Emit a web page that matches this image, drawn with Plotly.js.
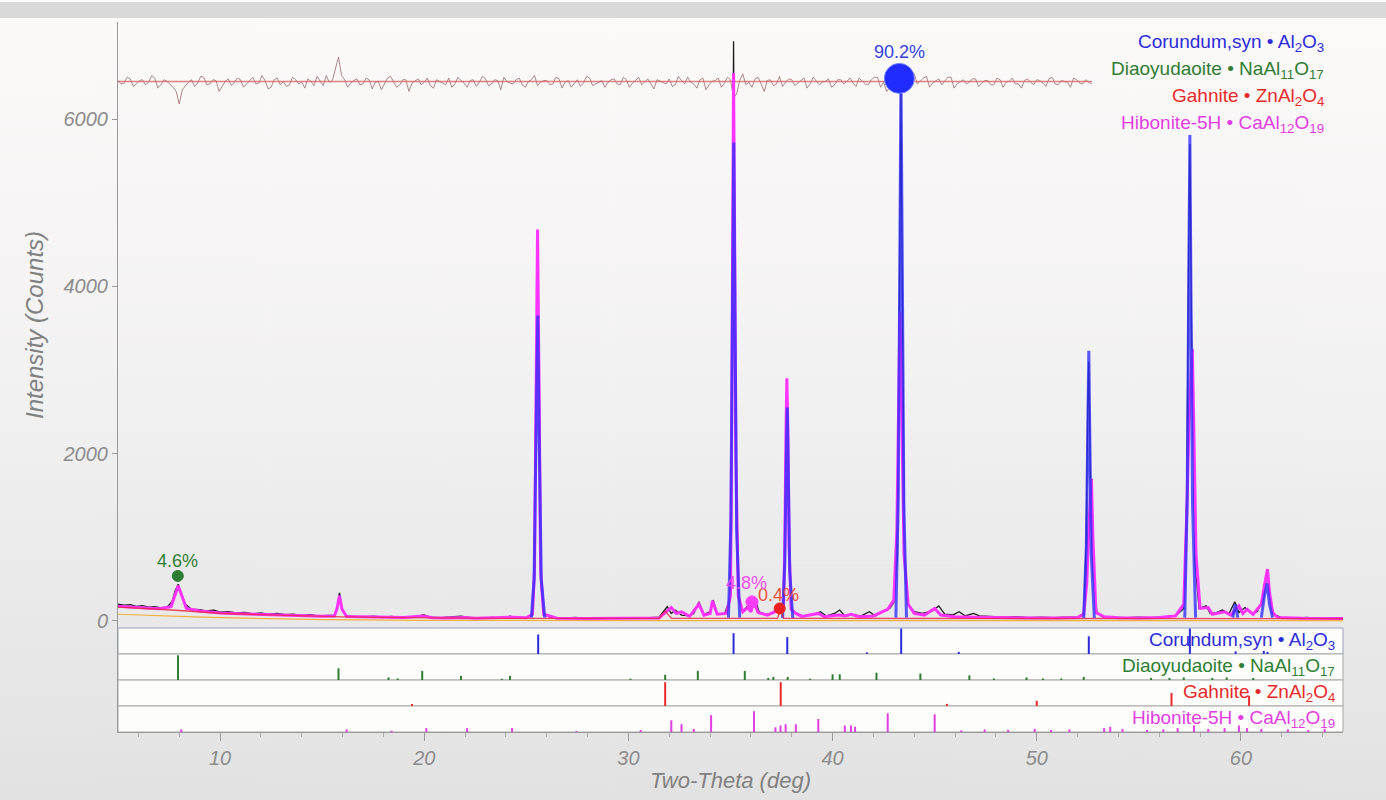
<!DOCTYPE html>
<html><head><meta charset="utf-8">
<script src="https://cdn.plot.ly/plotly-3.0.1.min.js"></script>
<style>html,body{margin:0;padding:0;background:#ececec;} #chart{width:1386px;height:800px;}</style>
</head><body><div id="chart"></div>
<script>
// ---------- DATA (2-theta in deg, intensity in counts) ----------
const obsPoints = [[5.0,200],[5.3,190],[5.6,195],[5.9,175],[6.2,182],[6.5,165],[6.8,172],[7.1,155],[7.4,165],[7.65,230],[7.8,360],[7.95,440],[8.1,330],[8.3,200],[8.6,140],[9.0,135],[9.3,120],[9.7,128],[10.0,105],[10.4,112],[10.8,95],[11.2,102],[11.6,85],[12.0,96],[12.4,80],[12.8,90],[13.2,75],[13.6,82],[14.0,65],[14.4,76],[14.8,60],[15.2,66],[15.6,70],[15.72,160],[15.85,335],[15.98,150],[16.15,60],[16.5,55],[17.0,48],[17.5,56],[18.0,45],[18.4,55],[18.8,44],[19.2,52],[19.6,45],[19.95,75],[20.3,45],[20.8,40],[21.3,46],[21.8,56],[22.3,40],[22.8,35],[23.3,42],[23.8,35],[24.2,56],[24.6,35],[25.0,40],[25.3,70],[25.4,500],[25.48,2500],[25.55,4500],[25.62,2500],[25.7,500],[25.85,80],[26.2,40],[26.8,34],[27.4,42],[28.0,30],[28.6,36],[29.2,30],[29.8,36],[30.4,30],[31.0,36],[31.5,45],[31.9,170],[32.1,90],[32.3,130],[32.6,70],[33.0,60],[33.2,90],[33.45,230],[33.7,80],[34.0,110],[34.15,250],[34.35,90],[34.7,80],[34.95,250],[35.05,1800],[35.1,4500],[35.15,6930],[35.2,4500],[35.26,1800],[35.38,300],[35.6,120],[35.85,180],[36.0,110],[36.2,260],[36.4,110],[36.7,80],[37.0,90],[37.3,150],[37.45,100],[37.6,170],[37.66,800],[37.72,2000],[37.76,2550],[37.81,2000],[37.87,800],[37.97,150],[38.3,70],[38.7,60],[39.0,72],[39.4,110],[39.7,60],[40.1,90],[40.35,130],[40.6,60],[41.0,72],[41.4,60],[41.8,110],[42.1,60],[42.5,120],[42.8,150],[43.0,220],[43.18,800],[43.26,3500],[43.35,6300],[43.43,3500],[43.52,800],[43.7,200],[44.0,110],[44.4,90],[44.9,120],[45.2,180],[45.5,80],[45.9,72],[46.2,110],[46.5,60],[46.9,90],[47.2,60],[47.8,50],[48.4,46],[49.0,52],[49.6,40],[50.2,46],[50.8,40],[51.4,46],[52.0,50],[52.3,90],[52.42,900],[52.5,2600],[52.55,3100],[52.62,1800],[52.7,900],[52.8,400],[52.95,100],[53.2,50],[53.8,45],[54.4,40],[55.0,46],[55.6,40],[56.2,50],[56.8,60],[57.2,150],[57.35,1500],[57.44,4500],[57.5,5700],[57.58,3500],[57.65,2200],[57.75,700],[57.95,150],[58.3,180],[58.5,90],[58.8,100],[59.1,130],[59.4,80],[59.7,230],[59.9,100],[60.2,160],[60.5,90],[60.8,110],[61.1,260],[61.3,600],[61.45,280],[61.6,80],[62.0,40],[62.6,35],[63.2,42],[63.8,35],[64.4,40],[65.0,35]];

const calcPoints = [[5.0,175],[6.0,160],[7.0,145],[7.6,170],[7.8,330],[7.95,420],[8.1,320],[8.35,150],[9.0,120],[10,95],[11,85],[12,78],[13,70],[14,62],[15,56],[15.6,60],[15.73,150],[15.85,300],[15.97,140],[16.2,52],[17,46],[18,42],[19,40],[19.95,60],[20.4,38],[21,36],[22,40],[22.5,33],[24.3,45],[25.0,38],[25.3,80],[25.4,600],[25.48,2900],[25.55,4680],[25.62,2900],[25.7,600],[25.85,80],[26.5,32],[28,28],[30,28],[31.5,35],[31.9,120],[32.1,160],[32.35,90],[32.6,110],[33.0,55],[33.45,200],[33.7,70],[34.0,90],[34.12,240],[34.35,80],[34.8,90],[35.0,300],[35.05,2000],[35.1,4700],[35.15,6550],[35.2,4700],[35.26,2000],[35.38,300],[35.6,110],[35.85,160],[36.0,110],[36.15,230],[36.35,100],[36.8,70],[37.2,110],[37.45,140],[37.6,200],[37.66,900],[37.72,2300],[37.76,2900],[37.81,2300],[37.87,900],[37.97,140],[38.2,90],[38.5,55],[39.3,90],[39.6,50],[40.3,70],[40.6,60],[40.9,80],[41.3,50],[42.0,60],[42.7,140],[43.0,250],[43.15,1100],[43.25,3000],[43.3,3700],[43.38,2600],[43.5,800],[43.7,200],[44.0,90],[44.5,70],[45.0,150],[45.3,70],[46.0,50],[47.0,45],[48,40],[49,38],[50,36],[51,35],[52.0,40],[52.3,80],[52.45,450],[52.55,1100],[52.63,1500],[52.68,1700],[52.75,1000],[52.9,100],[53.3,50],[54,38],[55,36],[56,40],[56.8,60],[57.2,200],[57.35,1300],[57.45,2300],[57.55,2900],[57.62,3250],[57.7,2200],[57.8,800],[58.0,150],[58.4,160],[58.6,80],[59.2,110],[59.5,70],[59.9,180],[60.1,90],[60.3,140],[60.6,80],[61.0,200],[61.15,420],[61.3,620],[61.4,350],[61.55,100],[61.8,40],[63,32],[65,30]];

// corundum profile: only the peak segments (null = gap)
const corPoints = [[25.25,40],[25.38,500],[25.48,2300],[25.56,3650],[25.63,2200],[25.73,500],[25.9,40],null,[34.9,40],[35.02,1200],[35.1,3800],[35.16,5720],[35.22,3700],[35.3,1100],[35.45,40],null,[37.55,35],[37.66,700],[37.73,1900],[37.78,2550],[37.83,1800],[37.9,600],[38.05,35],null,[43.1,40],[43.22,1500],[43.3,4600],[43.35,6550],[43.41,4400],[43.49,1400],[43.62,40],null,[52.3,35],[52.43,900],[52.5,2300],[52.55,3230],[52.6,2200],[52.67,800],[52.82,35],null,[57.25,40],[57.37,1500],[57.45,4200],[57.5,5810],[57.55,4000],[57.63,1400],[57.78,40],null,[59.6,40],[59.72,200],[59.85,40],null,[61.0,40],[61.15,300],[61.28,450],[61.4,200],[61.55,40]];

const fitPoints = [[5,165],[6,155],[7,140],[8,125],[9,110],[10,92],[12,75],[14,60],[16,50],[18,42],[20,36],[22,33],[25,30],[28,27],[31.5,30],[31.8,120],[32.1,30],[37.3,30],[37.45,140],[37.6,30],[45,28],[50,30],[55,30],[60,30],[65,28]];

const bgPoints = [[5,80],[6,70],[8,55],[10,40],[12,28],[15,15],[20,8],[30,5],[65,5]];

// difference curve (offset)
const diffX = [5.0,5.3,5.6,5.9,6.2,6.5,6.8,7.1,7.4,7.7,8.0,8.3,8.6,8.9,9.2,9.5,9.8,10.1,10.4,10.7,11.0,11.3,11.6,11.9,12.2,12.5,12.8,13.1,13.4,13.7,14.0,14.3,14.6,14.9,15.2,15.5,15.8,16.1,16.4,16.7,17.0,17.3,17.6,17.9,18.2,18.5,18.8,19.1,19.4,19.7,20.0,20.3,20.6,20.9,21.2,21.5,21.8,22.1,22.4,22.7,23.0,23.3,23.6,23.9,24.2,24.5,24.8,25.1,25.4,25.7,26.0,26.3,26.6,26.9,27.2,27.5,27.8,28.1,28.4,28.7,29.0,29.3,29.6,29.9,30.2,30.5,30.8,31.1,31.4,31.7,32.0,32.3,32.6,32.9,33.2,33.5,33.8,34.1,34.4,34.7,35.0,35.3,35.6,35.9,36.2,36.5,36.8,37.1,37.4,37.7,38.0,38.3,38.6,38.9,39.2,39.5,39.8,40.1,40.4,40.7,41.0,41.3,41.6,41.9,42.2,42.5,42.8,43.1,43.4,43.7,44.0,44.3,44.6,44.9,45.2,45.5,45.8,46.1,46.4,46.7,47.0,47.3,47.6,47.9,48.2,48.5,48.8,49.1,49.4,49.7,50.0,50.3,50.6,50.9,51.2,51.5,51.8,52.1,52.4,52.7];
const diffY = [6460,6430,6480,6420,6470,6440,6490,6410,6450,6380,6180,6400,6470,6430,6500,6420,6460,6390,6480,6440,6470,6420,6500,6430,6460,6380,6490,6450,6410,6470,6440,6480,6400,6460,6520,6460,6740,6470,6430,6480,6420,6470,6440,6350,6490,6450,6410,6470,6430,6480,6440,6400,6470,6430,6490,6420,6460,6380,6470,6440,6480,6420,6460,6500,6430,6470,6410,6450,6520,6440,6460,6420,6480,6440,6380,6470,6430,6490,6420,6460,6440,6480,6410,6470,6430,6500,6450,6420,6470,6440,6480,6410,6460,6500,6420,6470,6350,6450,6490,6430,6470,6300,6540,6440,6480,6420,6460,6400,6510,6440,6470,6430,6490,6420,6460,6440,6480,6410,6470,6450,6430,6490,6420,6470,6500,6440,6380,6520,6430,6480,6540,6460,6510,6430,6480,6450,6500,6420,6470,6440,6480,6430,6460,6410,6470,6440,6490,6420,6460,6440,6470,6430,6480,6420,6460,6440,6490,6430,6470,6420];
const diffX2 = [5.15,5.45,5.75,6.05,6.35,6.65,6.95,7.25,7.55,7.85,8.15,8.45,8.75,9.05,9.35,9.65,9.95,10.25,10.55,10.85,11.15,11.45,11.75,12.05,12.35,12.65,12.95,13.25,13.55,13.85,14.15,14.45,14.75,15.05,15.35,15.65,15.95,16.25,16.55,16.85,17.15,17.45,17.75,18.05,18.35,18.65,18.95,19.25,19.55,19.85,20.15,20.45,20.75,21.05,21.35,21.65,21.95,22.25,22.55,22.85,23.15,23.45,23.75,24.05,24.35,24.65,24.95,25.25,25.55,25.85,26.15,26.45,26.75,27.05,27.35,27.65,27.95,28.25,28.55,28.85,29.15,29.45,29.75,30.05,30.35,30.65,30.95,31.25,31.55,31.85,32.15,32.45,32.75,33.05,33.35,33.65,33.95,34.25,34.55,34.85,35.15,35.45,35.75,36.05,36.35,36.65,36.95,37.25,37.55,37.85,38.15,38.45,38.75,39.05,39.35,39.65,39.95,40.25,40.55,40.85,41.15,41.45,41.75,42.05,42.35,42.65,42.95,43.25,43.55,43.85,44.15,44.45,44.75,45.05,45.35,45.65,45.95,46.25,46.55,46.85,47.15,47.45,47.75,48.05,48.35,48.65,48.95,49.25,49.55,49.85,50.15,50.45,50.75,51.05,51.35,51.65,51.95,52.25,52.55];
const diffY2 = [6420,6500,6390,6460,6410,6520,6370,6470,6420,6330,6350,6440,6390,6510,6410,6470,6330,6450,6400,6490,6380,6460,6420,6520,6360,6470,6410,6390,6500,6420,6370,6450,6510,6400,6440,6600,6520,6380,6460,6410,6490,6360,6450,6420,6510,6380,6470,6330,6460,6410,6490,6370,6450,6410,6380,6500,6430,6460,6390,6510,6400,6470,6350,6450,6420,6490,6380,6470,6400,6460,6410,6500,6370,6460,6420,6390,6510,6400,6450,6380,6470,6420,6500,6380,6460,6410,6480,6360,6450,6420,6390,6510,6420,6440,6370,6490,6410,6460,6380,6500,6250,6460,6410,6380,6500,6330,6470,6420,6390,6480,6400,6460,6370,6500,6410,6450,6380,6470,6420,6490,6390,6460,6410,6500,6380,6330,6470,6420,6390,6460,6420,6490,6380,6460,6410,6500,6370,6450,6420,6480,6390,6460,6410,6490,6380,6450,6420,6370,6480,6410,6460,6390,6500,6410,6450,6380,6470,6420,6440];
const diffZero = 6450;

// phase markers
const phaseNames = ['Corundum,syn','Diaoyudaoite','Gahnite','Hibonite-5H'];
const phaseFormulas = ['Al<sub>2</sub>O<sub>3</sub>','NaAl<sub>11</sub>O<sub>17</sub>','ZnAl<sub>2</sub>O<sub>4</sub>','CaAl<sub>12</sub>O<sub>19</sub>'];
const phasePct = ['90.2%','4.6%','0.4%','4.8%'];
const phaseMarkX = [43.27, 7.93, 37.41, 36.05];
const phaseMarkY = [6486, 538, 150, 228];
const phaseLabelX = [43.26, 7.93, 37.35, 35.8];
const phaseLabelY = [6805, 720, 310, 455];

// stick patterns (2-theta, relative intensity %)
const corPos = [25.58,35.15,37.78,41.68,43.36,46.18,52.55,57.50,59.74,61.12,61.30];
const corInt = [75,80,65,6,98,8,68,98,10,12,8];
const diaPos = [7.94,15.8,18.25,18.7,19.9,21.8,23.8,24.2,30.1,31.8,33.4,35.7,36.85,37.1,37.8,38.9,40.0,40.35,42.15,44.3,46.7,47.9,49.5,50.3,51.2,52.3,55.6,56.5,57.2,58.6,59.3,60.6];
const diaInt = [95,45,10,6,35,15,5,15,5,20,35,35,8,12,12,5,22,22,28,25,18,6,10,6,6,12,8,8,10,8,10,8];
const gahPos = [19.4,31.8,37.46,45.6,50.0,56.6,60.4];
const gahInt = [8,92,92,8,20,50,40];
const hibPos = [8.1,16.2,18.4,20.1,22.1,24.3,27.45,30.6,32.1,32.6,33.2,34.05,36.15,37.2,37.45,37.7,38.2,39.3,40.6,40.9,41.1,42.7,45.0,46.3,47.45,48.6,49.9,50.7,51.6,53.3,53.6,54.2,55.4,56.2,56.9,57.7,58.4,59.2,59.9,60.3,61.0,62.3,63.3,64.1];
const hibInt = [10,10,5,15,15,15,4,8,45,30,12,65,80,18,25,30,30,50,25,25,20,72,68,6,10,8,12,8,10,15,20,12,8,10,15,25,12,15,25,15,12,10,8,12];

const xTicks = [10,20,30,40,50,60];
const yTicks = [0,2000,4000,6000];

// ---------- STYLE ----------
const FONT = '"Liberation Sans", Arial, Helvetica, sans-serif';
const C = {blue:'#2b2bd9', green:'#2e7d32', red:'#e62a2a', mag:'#e23ee2'};
const phaseColors = [C.blue, C.green, C.red, C.mag];
const W=1386, H=800, M={l:118, r:43, t:22, b:68};
const pw = W-M.l-M.r, ph = H-M.t-M.b;
const doms = [[0.1465,1],[0.1099,0.1465],[0.0732,0.1099],[0.0366,0.0732],[0,0.0366]];

function split(pts){const x=[],y=[];pts.forEach(p=>{if(p===null){x.push(null);y.push(null);}else{x.push(p[0]);y.push(p[1]);}});return {x,y};}
function sticks(pos,inten){const x=[],y=[];pos.forEach((p,i)=>{x.push(p,p,null);y.push(0,inten[i],null);});return {x,y};}

const bg = split(bgPoints), obs = split(obsPoints), calc = split(calcPoints), cor = split(corPoints), fit = split(fitPoints);
const diffAll = diffX.map((x,i)=>[x,diffY[i]]).concat(diffX2.map((x,i)=>[x,diffY2[i]])).sort((a,b)=>a[0]-b[0]);
const diff = split(diffAll);

const traces = [
  {x:diff.x, y:diff.y, mode:'lines', line:{color:'rgba(150,100,100,0.75)', width:1}, hoverinfo:'skip'},
  {x:[diffX[0], diffX[diffX.length-1]], y:[diffZero, diffZero], mode:'lines', line:{color:'rgba(215,90,90,0.75)', width:1.5}, hoverinfo:'skip'},
  {x:bg.x, y:bg.y, mode:'lines', line:{color:'#f2b040', width:1.2}},
  {x:obs.x, y:obs.y, mode:'lines', line:{color:'#1b1b1b', width:1.3}},
  {x:calc.x, y:calc.y, mode:'lines', line:{color:'#ff33ff', width:3}},
  {x:cor.x, y:cor.y, mode:'lines', connectgaps:false, line:{color:'rgba(45,45,255,0.78)', width:3}},
  {x:fit.x, y:fit.y, mode:'lines', line:{color:'rgba(230,40,70,0.85)', width:1.3}},
  {x:phaseMarkX, y:phaseMarkY, mode:'markers',
   marker:{size:[30,11,11,12], opacity:1, color:['#1f2bff',C.green,'#ee2020','#ff3cff'], line:{color:['#6f80ff','#2e7d32','#ee2020','#ff3cff'], width:1}}}
];
const stickSets = [[corPos,corInt],[diaPos,diaInt],[gahPos,gahInt],[hibPos,hibInt]];
stickSets.forEach((s,i)=>{
  const st = sticks(s[0], s[1]);
  traces.push({x:st.x, y:st.y, yaxis:'y'+(i+2), mode:'lines', line:{color:phaseColors[i], width:2}, hoverinfo:'skip'});
});

// gradient background image
const cv = document.createElement('canvas'); cv.width = 8; cv.height = H;
const cx = cv.getContext('2d');
const g = cx.createLinearGradient(0,18,0,H);
g.addColorStop(0,'#fcf9f9'); g.addColorStop(0.45,'#f3f2f2'); g.addColorStop(1,'#e2e2e2');
cx.fillStyle = g; cx.fillRect(0,0,8,H);
cx.fillStyle = '#d9d9d9'; cx.fillRect(0,2,8,16);
const bgImg = cv.toDataURL();

const tickFont = {family:FONT, size:20, color:'#8c8c8c', style:'italic'};
const layout = {
  width:W, height:H, margin:M, showlegend:false,
  paper_bgcolor:'#ececec', plot_bgcolor:'rgba(0,0,0,0)',
  font:{family:FONT},
  images:[{source:bgImg, xref:'paper', yref:'paper', x:-M.l/pw, y:1+M.t/ph, sizex:W/pw, sizey:H/ph, sizing:'stretch', xanchor:'left', yanchor:'top', layer:'below'}],
  xaxis:{range:[5,65], anchor:'y5', domain:[0,1], tickvals:xTicks, ticks:'outside', ticklen:8, tickcolor:'#999',
         minor:{dtick:2, tick0:0, ticks:'outside', ticklen:4, tickcolor:'#aaa'},
         showline:true, linecolor:'#999', showgrid:false, zeroline:false, tickfont:tickFont,
         title:{text:'Two-Theta (deg)', font:{family:FONT, size:22, color:'#808080', style:'italic'}, standoff:4}},
  yaxis:{domain:doms[0], range:[-84,7160], tickvals:yTicks, ticks:'outside', ticklen:5, tickcolor:'#999',
         showline:true, linecolor:'#999', showgrid:false, zeroline:false, tickfont:tickFont,
         title:{text:'Intensity (Counts)', font:{family:FONT, size:24, color:'#808080', style:'italic'}, standoff:12}},
  shapes:[], annotations:[]
};
for (let i=1;i<=4;i++){
  layout['yaxis'+(i+1)] = {domain:doms[i], range:[0,100], showticklabels:false, ticks:'', showgrid:false, zeroline:false,
                           showline:true, linecolor:'#999', fixedrange:true};
  layout.shapes.push({type:'rect', xref:'paper', yref:'paper', x0:0, x1:1, y0:doms[i][0], y1:doms[i][1],
                      fillcolor:'#fdfdfb', line:{color:i===1?'#9aa0c0':'#a8a8a8', width:1}, layer:'below'});
}
const legY = [0.970, 0.932, 0.894, 0.856];
const panY = [0.128, 0.0915, 0.055, 0.018];
const pctColors = ['#3344dd', C.green, '#ee5040', '#f050f0'];
phaseNames.forEach((n,i)=>{
  const txt = n + ' • ' + phaseFormulas[i];
  layout.annotations.push({xref:'paper', yref:'paper', x:0.986, y:legY[i], xanchor:'right', yanchor:'middle', showarrow:false,
                           text:txt, font:{family:FONT, size:19, color:phaseColors[i]}});
  layout.annotations.push({xref:'paper', yref:'paper', x:0.995, y:panY[i], xanchor:'right', yanchor:'middle', showarrow:false,
                           text:txt, font:{family:FONT, size:19, color:phaseColors[i]}});
  layout.annotations.push({xref:'x', yref:'y', x:phaseLabelX[i], y:phaseLabelY[i], xanchor:'center', yanchor:'middle', showarrow:false,
                           text:phasePct[i], font:{family:FONT, size:18, color:pctColors[i]}});
});

Plotly.newPlot('chart', traces, layout, {displayModeBar:false, staticPlot:true});
</script></body></html>
